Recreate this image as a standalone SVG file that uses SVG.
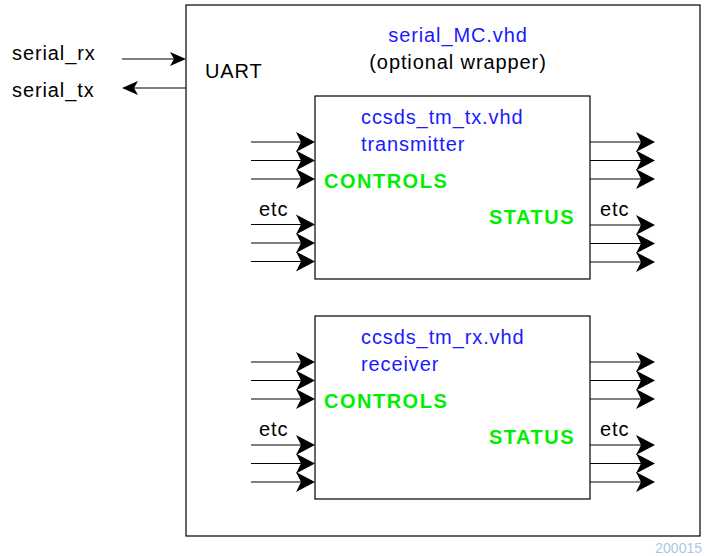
<svg xmlns="http://www.w3.org/2000/svg" width="705" height="556" viewBox="0 0 705 556">
  <style>
    .t { font-family: "Liberation Sans", Arial, sans-serif; font-size: 20px; letter-spacing: 0.9px; fill: #000; }
    .blue { fill: #1a1aff; }
    .grn { font-family: "Liberation Sans", Arial, sans-serif; font-size: 20px; font-weight: bold; fill: #00ee00; letter-spacing: 1.5px; }
    .box { fill: #fff; stroke: #000; stroke-width: 1.2; }
    .wire { stroke: #000; stroke-width: 1.2; fill: none; }
    .num { font-family: "Liberation Sans", Arial, sans-serif; font-size: 14px; fill: #a8c8e8; }
  </style>
  <defs>
    <!-- notched arrowhead, tip at origin pointing +x -->
    <path id="head" d="M0,0 L-19,-10 L-14,0 L-19,10 Z" fill="#000"/>
    <path id="headS" d="M0,0 L-16,-7 L-12,0 L-16,7 Z" fill="#000"/>
  </defs>

  <g id="wrapper">
    <rect class="box" x="186" y="5" width="514" height="531"/>
    <text class="t blue" x="458" y="42" text-anchor="middle">serial_MC.vhd</text>
    <text class="t" x="458" y="69" text-anchor="middle">(optional wrapper)</text>
    <text class="t" x="205" y="78">UART</text>
  </g>

  <g id="transmitter">
    <rect class="box" x="315" y="96" width="275" height="183"/>
    <text class="t blue" x="361" y="124">ccsds_tm_tx.vhd</text>
    <text class="t blue" x="361" y="151">transmitter</text>
    <text class="grn" x="324" y="188">CONTROLS</text>
    <text class="grn" x="489" y="224">STATUS</text>
  </g>

  <g id="receiver">
    <rect class="box" x="315" y="316" width="275" height="183"/>
    <text class="t blue" x="361" y="344">ccsds_tm_rx.vhd</text>
    <text class="t blue" x="361" y="371">receiver</text>
    <text class="grn" x="324" y="408">CONTROLS</text>
    <text class="grn" x="489" y="444">STATUS</text>
  </g>

  <g id="labels">
    <text class="t" x="12" y="60">serial_rx</text>
    <text class="t" x="12" y="97">serial_tx</text>
    <text class="t" x="259" y="216">etc</text>
    <text class="t" x="600" y="216">etc</text>
    <text class="t" x="259" y="436">etc</text>
    <text class="t" x="600" y="436">etc</text>
    <text class="num" x="702" y="553" text-anchor="end">200015</text>
  </g>

  <g id="connectors">
    <!-- serial lines -->
    <line class="wire" x1="122" y1="59" x2="180" y2="59"/>
    <use href="#headS" x="186" y="59"/>
    <line class="wire" x1="128" y1="88" x2="186" y2="88"/>
    <use href="#headS" transform="translate(122,88) rotate(180)"/>

    <!-- transmitter controls -->
    <g>
      <line class="wire" x1="251" y1="142" x2="305" y2="142"/><use href="#head" x="315" y="142"/>
      <line class="wire" x1="251" y1="160.5" x2="305" y2="160.5"/><use href="#head" x="315" y="160.5"/>
      <line class="wire" x1="251" y1="179" x2="305" y2="179"/><use href="#head" x="315" y="179"/>
      <line class="wire" x1="251" y1="224.5" x2="305" y2="224.5"/><use href="#head" x="315" y="224.5"/>
      <line class="wire" x1="251" y1="243" x2="305" y2="243"/><use href="#head" x="315" y="243"/>
      <line class="wire" x1="251" y1="261.5" x2="305" y2="261.5"/><use href="#head" x="315" y="261.5"/>
    </g>
    <!-- transmitter status -->
    <g>
      <line class="wire" x1="590" y1="142" x2="645" y2="142"/><use href="#head" x="655" y="142"/>
      <line class="wire" x1="590" y1="160.5" x2="645" y2="160.5"/><use href="#head" x="655" y="160.5"/>
      <line class="wire" x1="590" y1="179" x2="645" y2="179"/><use href="#head" x="655" y="179"/>
      <line class="wire" x1="590" y1="225" x2="645" y2="225"/><use href="#head" x="655" y="225"/>
      <line class="wire" x1="590" y1="243.5" x2="645" y2="243.5"/><use href="#head" x="655" y="243.5"/>
      <line class="wire" x1="590" y1="262" x2="645" y2="262"/><use href="#head" x="655" y="262"/>
    </g>
    <!-- receiver controls -->
    <g>
      <line class="wire" x1="251" y1="362" x2="305" y2="362"/><use href="#head" x="315" y="362"/>
      <line class="wire" x1="251" y1="380.5" x2="305" y2="380.5"/><use href="#head" x="315" y="380.5"/>
      <line class="wire" x1="251" y1="399" x2="305" y2="399"/><use href="#head" x="315" y="399"/>
      <line class="wire" x1="251" y1="445" x2="305" y2="445"/><use href="#head" x="315" y="445"/>
      <line class="wire" x1="251" y1="463.5" x2="305" y2="463.5"/><use href="#head" x="315" y="463.5"/>
      <line class="wire" x1="251" y1="482" x2="305" y2="482"/><use href="#head" x="315" y="482"/>
    </g>
    <!-- receiver status -->
    <g>
      <line class="wire" x1="590" y1="362" x2="645" y2="362"/><use href="#head" x="655" y="362"/>
      <line class="wire" x1="590" y1="380.5" x2="645" y2="380.5"/><use href="#head" x="655" y="380.5"/>
      <line class="wire" x1="590" y1="399" x2="645" y2="399"/><use href="#head" x="655" y="399"/>
      <line class="wire" x1="590" y1="445" x2="645" y2="445"/><use href="#head" x="655" y="445"/>
      <line class="wire" x1="590" y1="463.5" x2="645" y2="463.5"/><use href="#head" x="655" y="463.5"/>
      <line class="wire" x1="590" y1="482" x2="645" y2="482"/><use href="#head" x="655" y="482"/>
    </g>
  </g>
</svg>
